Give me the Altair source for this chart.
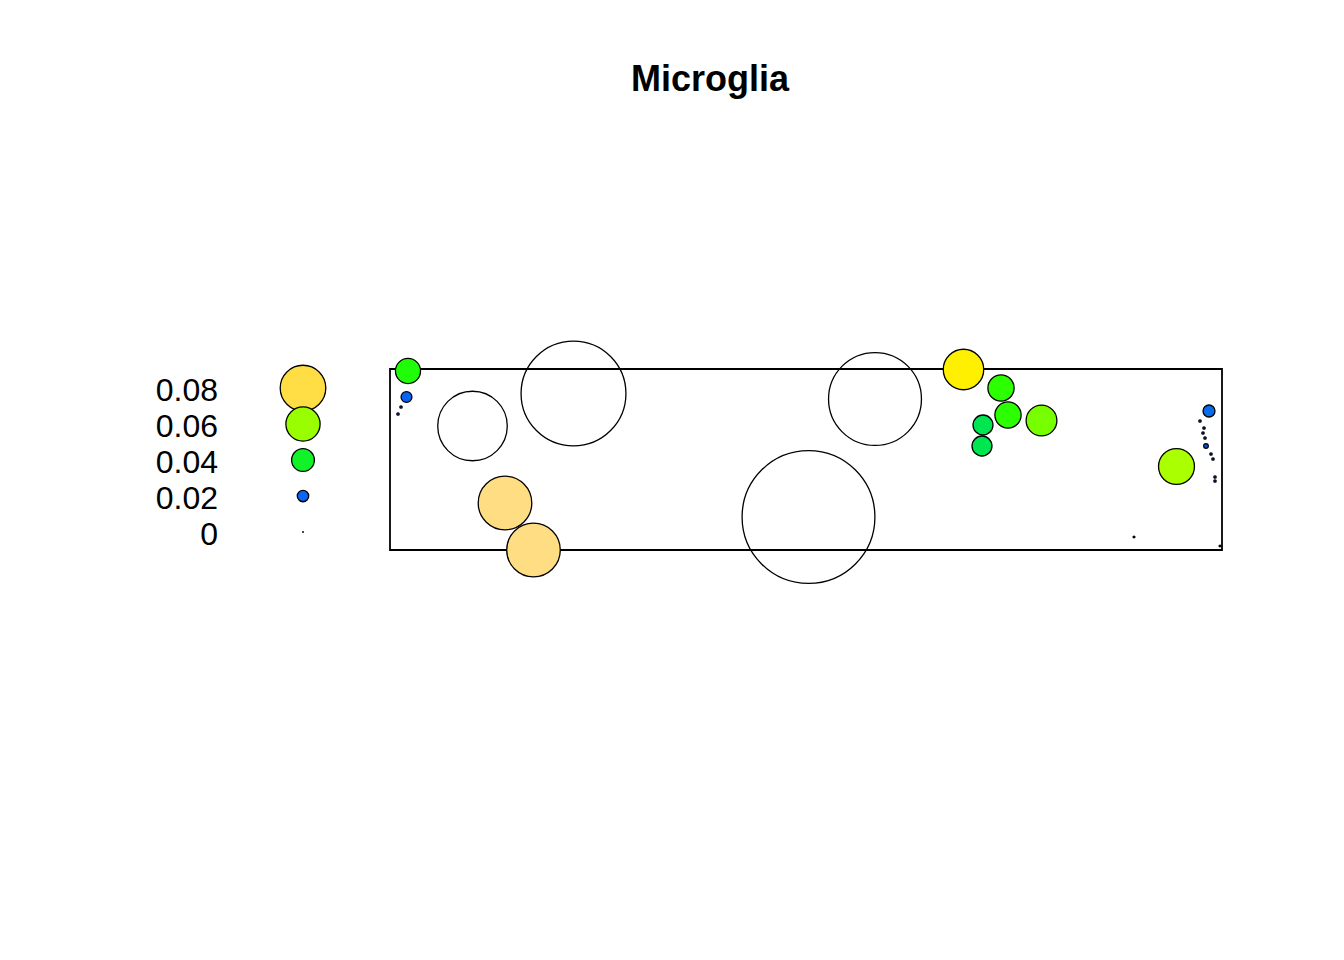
import altair as alt
import pandas as pd

# Spot coordinates (tissue units, box spans 0..832 x 0..181) and values
pos_x = [183.5, 418.5, 485, 82.5, 115, 143.5, 573.5, 611, 618, 651.5, 593, 592, 786.5,
         18, 16.5, 819,
         11, 8, 810, 814, 813, 815, 816, 821, 823, 825, 825, 744, 830]
pos_y = [156.5, 33, 151, 124, 47, 0, 180.5, 162, 135, 129.5, 125, 104, 83.5,
         179, 153, 139,
         143, 136, 129, 122, 117, 112, 104, 96, 91, 73, 69, 13, 4]
values = [0.184, 0.233, 0.163, 0.122, 0.094, 0.094, 0.071, 0.046, 0.046, 0.054, 0.035, 0.035, 0.063,
          0.044, 0.019, 0.021,
          0.004, 0.004, 0.004, 0.004, 0.004, 0.004, 0.008, 0.004, 0.004, 0.004, 0.004, 0.003, 0.003]

legend_values = [0.08, 0.06, 0.04, 0.02, 0.0]
legend_labels = ["0.08", "0.06", "0.04", "0.02", "0"]

color_stops = [0, 0.02, 0.035, 0.045, 0.054, 0.063, 0.071, 0.08, 0.095]
color_range = ["#1040D0", "#0A64F5", "#00E650", "#22FF00", "#77FF00", "#AAFF00",
               "#FFF000", "#FFDD44", "#FFDD88"]

df = pd.DataFrame({"x": pos_x, "y": pos_y, "v": values})
leg = pd.DataFrame({"v": legend_values, "label": legend_labels})

FONT = "Liberation Sans"
size_scale = alt.Scale(type="pow", exponent=2, domain=[0, 0.1], range=[0.5, 3249])
color_scale = alt.Scale(type="linear", domain=color_stops, range=color_range, interpolate="rgb")
legend_y = alt.Scale(domain=[-0.01, 0.0906], nice=False, zero=False)

points = alt.Chart(df).mark_circle(opacity=1, stroke="black", strokeWidth=1.3).encode(
    x=alt.X("x:Q", scale=alt.Scale(domain=[0, 832], nice=False, zero=False), axis=None),
    y=alt.Y("y:Q", scale=alt.Scale(domain=[0, 181], nice=False, zero=False), axis=None),
    size=alt.Size("v:Q", scale=size_scale, legend=None),
    fill=alt.condition("datum.v > 0.11", alt.value("transparent"),
                       alt.Fill("v:Q", scale=color_scale, legend=None)),
)

leg_pts = alt.Chart(leg).mark_circle(opacity=1, stroke="black", strokeWidth=1.3).encode(
    x=alt.value(-87),
    y=alt.Y("v:Q", scale=legend_y, axis=None),
    size=alt.Size("v:Q", scale=size_scale, legend=None),
    fill=alt.Fill("v:Q", scale=color_scale, legend=None),
)

leg_txt = alt.Chart(leg).mark_text(align="right", baseline="middle", fontSize=32, dy=3,
                                   font=FONT, color="black").encode(
    x=alt.value(-172),
    y=alt.Y("v:Q", scale=legend_y, axis=None),
    text=alt.Text("label:N"),
)

chart = alt.layer(points, leg_pts, leg_txt).resolve_scale(y="independent").properties(
    width=832, height=181,
    autosize="none",
    padding={"left": 390, "top": 369, "right": 122, "bottom": 410},
    background="white",
    title=alt.Title("Microglia", fontSize=36, font=FONT, fontWeight="bold", color="black",
                    anchor="middle", dx=-96, offset=239),
).configure_view(stroke="black", strokeWidth=1.8)

chart.save("out.html", embed_options={"renderer": "svg", "actions": False})
